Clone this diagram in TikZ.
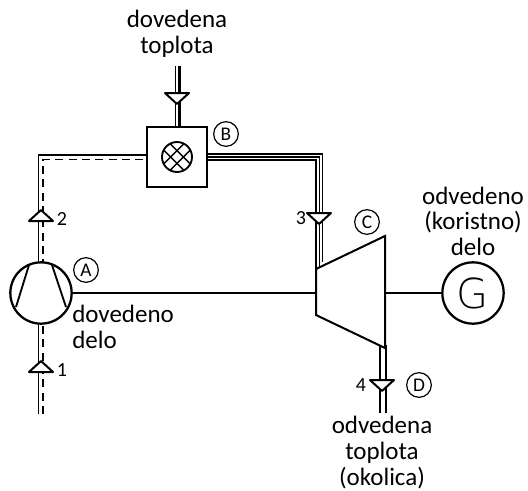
\documentclass[tikz,border=0pt]{standalone}
\usepackage{fontspec}
\setmainfont{Carlito}
\newfontfamily\genfont{DejaVu Sans ExtraLight}
\usetikzlibrary{calc}
\tikzset{>=latex}
\tikzset{lbl/.style={inner sep=0pt, align=center, font=\fontsize{18.75}{19.2}\selectfont}}
\tikzset{numlbl/.style={inner sep=0pt, font=\fontsize{15}{15}\selectfont}}
\tikzset{circlbl/.style={draw, circle, line width=0.9pt, minimum size=18.5pt, inner sep=0pt, font=\fontsize{14.5}{14.5}\selectfont}}
\tikzset{machine/.style={draw, circle, fill=white, line width=1.7pt, minimum size=46pt, inner sep=0pt}}
\tikzset{pipe/.style={line width=1.2pt}}
\tikzset{hotpipe/.style={line width=2.2pt}}
\tikzset{pipetip/.style={draw, fill=white, line width=1.5pt, line join=round}}

\begin{document}
\begin{tikzpicture}[x=0.75pt, y=-0.75pt]

    \useasboundingbox (0,0) rectangle (528,490);

    \coordinate (leftin) at (38.5,414);
    \coordinate (dashin) at (43,414);
    \coordinate (topin) at (175.5,66);
    \coordinate (hotin) at (179.5,66);
    \coordinate (botout) at (380,413);
    \coordinate (botthin) at (386,413);
    \coordinate (turbin) at (316,293);
    \coordinate (turbout) at (385,293);

    \node[draw, fill=white, line width=1.9pt, minimum size=45pt, inner sep=0pt] (heater) at (177,157) {};

    % pipes
    \draw[pipe] (leftin) -- (leftin |- 0,155) -- (heater.west |- 0,155);
    \draw[pipe, dashed, dash pattern=on 6pt off 4pt] (dashin) -- (dashin |- 0,159.5) -- (heater.west |- 0,159.5);
    \draw[pipe] (topin) -- (topin |- heater.north);
    \draw[hotpipe] (hotin) -- (hotin |- heater.north);

    \draw[pipe] (heater.east |- 0,154) -- (322.5,154) -- (322.5,262);
    \draw[pipe] (heater.east |- 0,157) -- (319.5,157) -- (319.5,268);
    \draw[pipe] (heater.east |- 0,160) -- (316,160) -- (316,270);

    \draw[hotpipe] (botout) -- (botout |- 0,345);
    \draw[pipe] (botthin) -- (botthin |- 0,345);

    % shafts
    \node[machine] (compressor) at (41,293) {};
    \node[machine] (generator) at (473,293) {\genfont\fontsize{31}{31}\selectfont G};

    \draw[line width=1.5pt] (compressor.east) -- (turbin);
    \draw[line width=1.5pt] (turbout) -- (generator.west);

    % turbine
    \draw[fill=white, line width=1.5pt, line join=miter] (316,269) -- (385,236) -- (385,348) -- (316,315) -- cycle;

    % compressor inner lines
    \draw[line width=1.4pt] (29,265) -- (16,307);
    \draw[line width=1.4pt] (52,265) -- (66,307);

    % heater symbol
    \node[draw, circle, line width=1.4pt, minimum size=22.5pt, inner sep=0pt] (burner) at (heater.center) {};
    \begin{scope}
        \clip (burner.center) circle (15);
        \foreach \d in {-3.2,3.2}{
            \draw[line width=1pt] ($(burner.center)+(-20,-20)+(\d,-\d)$) -- ($(burner.center)+(20,20)+(\d,-\d)$);
            \draw[line width=1pt] ($(burner.center)+(-20,20)+(\d,\d)$) -- ($(burner.center)+(20,-20)+(\d,\d)$);
        }
    \end{scope}

    % arrow tips on pipes
    \foreach \x/\y in {177/93, 319/213, 382/380}{
        \draw[pipetip] (\x-12,\y) -- (\x+12,\y) -- (\x,\y+11) -- cycle;
    }
    \foreach \x/\y in {41/221, 41/372}{
        \draw[pipetip] (\x-12,\y) -- (\x+12,\y) -- (\x,\y-11) -- cycle;
    }

    % labels
    \node[lbl] (heatin) at (177,34) {dovedena\\toplota};
    \node[lbl, align=left, anchor=north west] (workin) at (72,305) {dovedeno\\delo};
    \node[lbl] (workout) at (473,221) {odvedeno\\(koristno)\\delo};
    \node[lbl] (heatout) at (382,452.5) {odvedena\\toplota\\(okolica)};

    \node[numlbl] (n1) at (62,370) {1};
    \node[numlbl] (n2) at (62,219) {2};
    \node[numlbl] (n3) at (301,218) {3};
    \node[numlbl] (n4) at (361,385) {4};

    \node[circlbl] (mA) at (86,270) {A};
    \node[circlbl] (mB) at (226,134) {B};
    \node[circlbl] (mC) at (367,222) {C};
    \node[circlbl] (mD) at (419,385) {D};

\end{tikzpicture}
\end{document}
